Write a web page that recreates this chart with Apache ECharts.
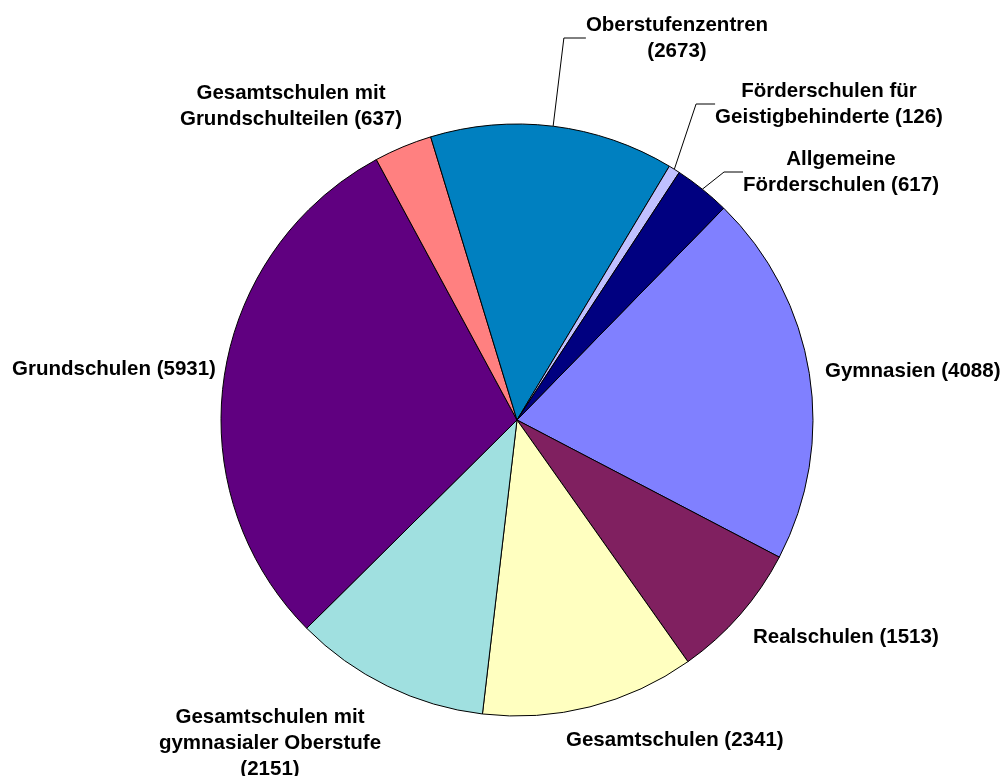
<!DOCTYPE html>
<html>
<head>
<meta charset="utf-8">
<script src="https://cdn.jsdelivr.net/npm/echarts@6/dist/echarts.min.js"></script>
<style>html,body{margin:0;padding:0;background:#fff;}#c{width:1005px;height:776px;}</style>
</head>
<body>
<div id="c"></div>
<script>
const categories = [
  'Gymnasien',
  'Realschulen',
  'Gesamtschulen',
  'Gesamtschulen mit\ngymnasialer Oberstufe',
  'Grundschulen',
  'Gesamtschulen mit\nGrundschulteilen',
  'Oberstufenzentren',
  'Förderschulen für\nGeistigbehinderte',
  'Allgemeine\nFörderschulen'
];
const values = [4088, 1513, 2341, 2151, 5931, 637, 2673, 126, 617];
const colors = ['#8080FF', '#802060', '#FFFFC0', '#A0E0E0', '#600080', '#FF8080', '#0080C0', '#C0C0FF', '#000080'];

// label placement (layout only)
const valueOnNewLine = [false, false, false, true, false, false, true, false, false];
const labelPos = [
  {x: 825, y: 371, align: 'left'},
  {x: 753, y: 637, align: 'left'},
  {x: 566, y: 740, align: 'left'},
  {x: 270, y: 743, align: 'center'},
  {x: 12,  y: 369, align: 'left'},
  {x: 291, y: 106, align: 'center'},
  {x: 677, y: 38,  align: 'center'},
  {x: 829, y: 104, align: 'center'},
  {x: 841, y: 172, align: 'center'}
];
const withLeader = [false, false, false, false, false, false, true, true, true];
const leaderLen2 = [17, 17, 17, 17, 17, 17, 22, 19, 19];

const data = categories.map((name, i) => ({
  name: name,
  value: values[i],
  itemStyle: {color: colors[i]},
  labelLine: {show: withLeader[i], length: 10, length2: leaderLen2[i], lineStyle: {color: '#000', width: 1}}
}));

const chart = echarts.init(document.getElementById('c'), null, {renderer: 'canvas'});
chart.setOption({
  backgroundColor: '#ffffff',
  animation: false,
  series: [{
    type: 'pie',
    center: [517, 420],
    radius: 296,
    startAngle: 45.7,
    clockwise: true,
    avoidLabelOverlap: false,
    data: data,
    itemStyle: {borderColor: '#000', borderWidth: 1},
    label: {
      show: true,
      position: 'outside',
      fontFamily: 'Liberation Sans, Arial, sans-serif',
      fontWeight: 'bold',
      fontSize: 20.5,
      lineHeight: 26,
      color: '#000',
      formatter: function (p) {
        return p.name + (valueOnNewLine[p.dataIndex] ? '\n' : ' ') + '(' + p.value + ')';
      }
    },
    labelLayout: function (params) {
      const lp = labelPos[params.dataIndex];
      return {x: lp.x, y: lp.y, align: lp.align, verticalAlign: 'middle'};
    },
    emphasis: {disabled: true}
  }]
});
</script>
</body>
</html>
